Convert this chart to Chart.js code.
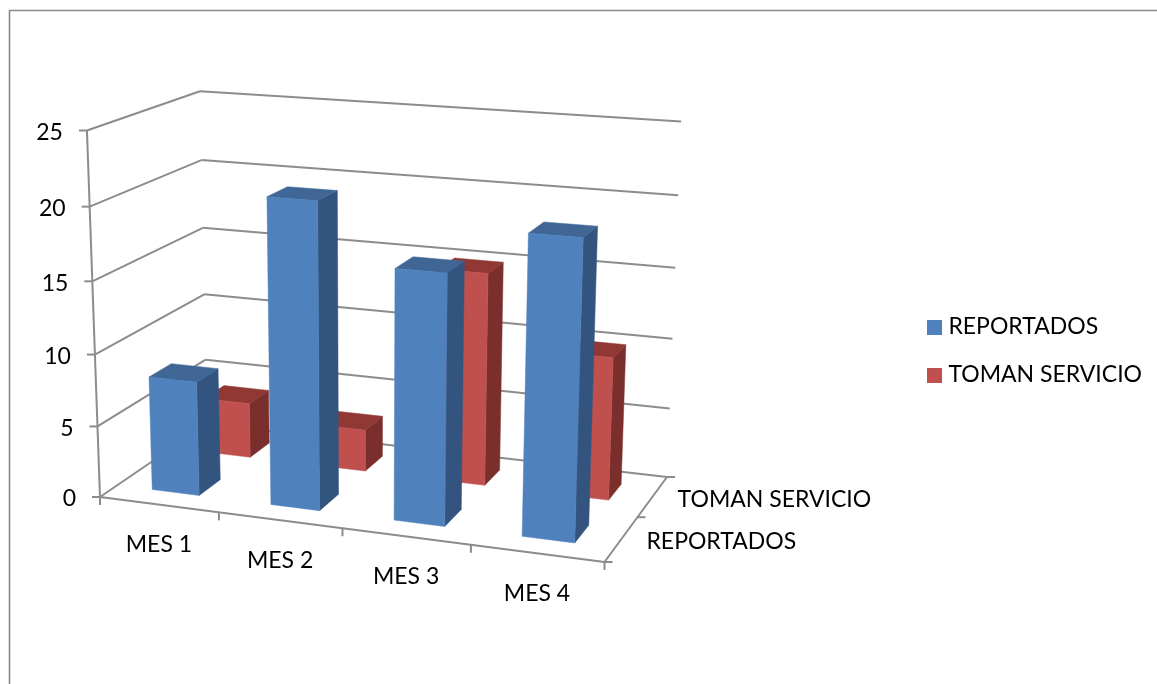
<!DOCTYPE html>
<html>
<head>
<meta charset="utf-8">
<style>
  html, body { margin: 0; padding: 0; background: #fff; }
  #wrap { width: 1157px; height: 684px; }
</style>
<script src="https://cdn.jsdelivr.net/npm/chart.js@4"></script>
</head>
<body>
<div id="wrap"><canvas id="chart" width="1157" height="684"></canvas></div>
<script>
// Monthly counts per series
const categories = ['MES 1', 'MES 2', 'MES 3', 'MES 4'];
const reportados = [8, 21, 17, 20];
const tomanServicio = [4, 3, 15, 10];
const seriesNames = ['REPORTADOS', 'TOMAN SERVICIO'];
const seriesColors = ['#4F81BD', '#C0504D'];
const seriesSideColors = ['#32547F', '#7B2F2D'];
const seriesTopColors = ['#3F6695', '#913835'];
const valueMax = 25;
const valueStep = 5;

const FONT = '23px Lato';
const GRID = '#8C8C8C';

// Depth slots of each series on the floor (0 = front, 1 = back)
const rowDepth = [[0.15, 0.35], [0.65, 0.85]];

// Builds a perspective mapping from (u, v, w) in the unit box to the page.
// floor: page corners of w=0 at (0,0), (1,0), (1,1), (0,1).
// tops: [u, v, pageX, pageY] of points at w=1.
function makeCamera(floor, tops) {
  const [[x0, y0], [x1, y1], [x2, y2], [x3, y3]] = floor;
  const dx1 = x1 - x2, dx2 = x3 - x2, sx = x0 - x1 + x2 - x3;
  const dy1 = y1 - y2, dy2 = y3 - y2, sy = y0 - y1 + y2 - y3;
  const den = dx1 * dy2 - dx2 * dy1;
  const g = (sx * dy2 - dx2 * sy) / den;
  const h = (dx1 * sy - sx * dy1) / den;
  const a = x1 - x0 + g * x1, b = x3 - x0 + h * x3, c = x0;
  const d = y1 - y0 + g * y1, e = y3 - y0 + h * y3, f = y0;
  // Least squares for the height column (p, q, r)
  const rows = [], rhs = [];
  tops.forEach(([u, v, X, Y]) => {
    const hx = a * u + b * v + c, hy = d * u + e * v + f, hz = g * u + h * v + 1;
    rows.push([1, 0, -X]); rhs.push(X * hz - hx);
    rows.push([0, 1, -Y]); rhs.push(Y * hz - hy);
  });
  const [p, q, r] = solveNormal(rows, rhs);
  return (u, v, w) => {
    const z = g * u + h * v + 1 + r * w;
    return [(a * u + b * v + c + p * w) / z, (d * u + e * v + f + q * w) / z];
  };
}

function solveNormal(rows, rhs) {
  const n = rows[0].length;
  const M = Array.from({ length: n }, (_, i) => {
    const line = Array.from({ length: n }, (_, j) => rows.reduce((s, row) => s + row[i] * row[j], 0));
    line.push(rows.reduce((s, row, k) => s + row[i] * rhs[k], 0));
    return line;
  });
  for (let i = 0; i < n; i++) {
    let best = i;
    for (let k = i + 1; k < n; k++) if (Math.abs(M[k][i]) > Math.abs(M[best][i])) best = k;
    [M[i], M[best]] = [M[best], M[i]];
    for (let k = 0; k < n; k++) {
      if (k === i) continue;
      const t = M[k][i] / M[i][i];
      for (let j = i; j <= n; j++) M[k][j] -= t * M[i][j];
    }
  }
  return M.map((line, i) => line[n] / line[i]);
}

// View of the 3D box: floor corners and the wall tops
const camera = makeCamera(
  [[100, 497], [604.5, 562], [667, 477], [207, 424]],
  [[0, 0, 87, 132], [0, 1, 200, 90], [1, 1, 681, 121.5]]
);

function segment(ctx, a, b) {
  ctx.beginPath();
  ctx.moveTo(a[0], a[1]);
  ctx.lineTo(b[0], b[1]);
  ctx.stroke();
}

function polygon(ctx, pts, color) {
  ctx.fillStyle = color;
  ctx.strokeStyle = color;
  ctx.lineWidth = 0.5;
  ctx.beginPath();
  pts.forEach((p, i) => (i ? ctx.lineTo(p[0], p[1]) : ctx.moveTo(p[0], p[1])));
  ctx.closePath();
  ctx.fill();
  ctx.stroke();
}

function drawBox(chart) {
  const { ctx, scales } = chart;
  const yScale = scales.y;
  const height = v => (yScale.bottom - yScale.getPixelForValue(v)) / (yScale.bottom - yScale.top);
  ctx.save();
  ctx.strokeStyle = GRID;
  ctx.lineWidth = 2;
  ctx.lineCap = 'butt';

  // Gridlines across the side wall and the back wall, value ticks and labels
  ctx.font = FONT;
  ctx.fillStyle = '#000';
  ctx.textAlign = 'right';
  ctx.textBaseline = 'middle';
  yScale.ticks.forEach(tick => {
    const w = height(tick.value);
    const front = camera(0, 0, w), back = camera(0, 1, w), right = camera(1, 1, w);
    segment(ctx, front, back);
    segment(ctx, back, right);
    segment(ctx, [front[0] - 8, front[1]], front);
    ctx.fillText(String(tick.value), front[0] - 24, front[1] + 2);
  });

  // Value axis and floor outline
  segment(ctx, camera(0, 0, 0), camera(0, 0, 1));
  const floor = [camera(0, 0, 0), camera(1, 0, 0), camera(1, 1, 0)];
  segment(ctx, floor[0], floor[1]);
  segment(ctx, floor[1], floor[2]);

  // Category ticks and labels along the front edge
  ctx.textAlign = 'center';
  for (let i = 0; i <= categories.length; i++) {
    const p = camera(i / categories.length, 0, 0);
    segment(ctx, p, [p[0], p[1] + 8]);
  }
  categories.forEach((label, i) => {
    const p = camera((i + 0.5) / categories.length, 0, 0);
    ctx.fillText(label, p[0], p[1] + 40);
  });

  // Series ticks and labels along the depth edge
  ctx.textAlign = 'left';
  for (let i = 0; i <= seriesNames.length; i++) {
    const p = camera(1, i / seriesNames.length, 0);
    segment(ctx, p, [p[0] + 8, p[1]]);
  }
  seriesNames.forEach((label, i) => {
    const p = camera(1, (i + 0.5) / seriesNames.length, 0);
    ctx.fillText(label, p[0] + 25, p[1] + 3);
  });
  ctx.restore();
}

function drawBars(chart) {
  const { ctx, scales } = chart;
  const xs = scales.x, ys = scales.y;
  ctx.save();
  // Back series first so the front series covers it
  for (let s = chart.data.datasets.length - 1; s >= 0; s--) {
    const [v0, v1] = rowDepth[s];
    chart.getDatasetMeta(s).data.forEach(el => {
      const { x, y, base, width } = el.getProps(['x', 'y', 'base', 'width'], true);
      const u0 = (x - width / 2 - xs.left) / xs.width;
      const u1 = (x + width / 2 - xs.left) / xs.width;
      const w = (base - y) / (ys.bottom - ys.top);
      polygon(ctx, [camera(u1, v0, 0), camera(u1, v1, 0), camera(u1, v1, w), camera(u1, v0, w)], seriesSideColors[s]);
      polygon(ctx, [camera(u0, v0, w), camera(u1, v0, w), camera(u1, v1, w), camera(u0, v1, w)], seriesTopColors[s]);
      polygon(ctx, [camera(u0, v0, 0), camera(u1, v0, 0), camera(u1, v0, w), camera(u0, v0, w)], seriesColors[s]);
    });
  }
  ctx.restore();
}

const box3d = {
  id: 'box3d',
  beforeDraw(chart) {
    // Outer frame of the chart object
    const { ctx, width, height } = chart;
    ctx.save();
    ctx.fillStyle = '#fff';
    ctx.fillRect(0, 0, width, height);
    ctx.strokeStyle = '#8A8A8A';
    ctx.lineWidth = 1.6;
    ctx.beginPath();
    ctx.moveTo(9.5, height);
    ctx.lineTo(9.5, 10.5);
    ctx.lineTo(width, 10.5);
    ctx.stroke();
    ctx.restore();
  },
  beforeDatasetsDraw(chart) {
    drawBox(chart);
    drawBars(chart);
    return false;
  }
};

// Legend swatch as a small square, so the label can sit close beside it
function swatch(color) {
  const c = document.createElement('canvas');
  c.width = 15;
  c.height = 15;
  const g = c.getContext('2d');
  g.fillStyle = color;
  g.fillRect(0, 0, 15, 15);
  return c;
}

new Chart(document.getElementById('chart'), {
  type: 'bar',
  data: {
    labels: categories,
    datasets: [
      { label: seriesNames[0], data: reportados, backgroundColor: seriesColors[0], pointStyle: swatch(seriesColors[0]) },
      { label: seriesNames[1], data: tomanServicio, backgroundColor: seriesColors[1], pointStyle: swatch(seriesColors[1]) }
    ]
  },
  plugins: [box3d],
  options: {
    responsive: false,
    animation: false,
    layout: { padding: { top: 18, right: 5 } },
    datasets: { bar: { grouped: false, barPercentage: 0.4, categoryPercentage: 1 } },
    scales: {
      x: { display: false },
      y: { display: false, min: 0, max: valueMax, ticks: { stepSize: valueStep } }
    },
    plugins: {
      tooltip: { enabled: false },
      legend: {
        position: 'right',
        labels: {
          font: { family: 'Lato', size: 23 },
          color: '#000',
          usePointStyle: true,
          pointStyleWidth: 4,
          padding: 25
        }
      }
    }
  }
});
</script>
</body>
</html>
